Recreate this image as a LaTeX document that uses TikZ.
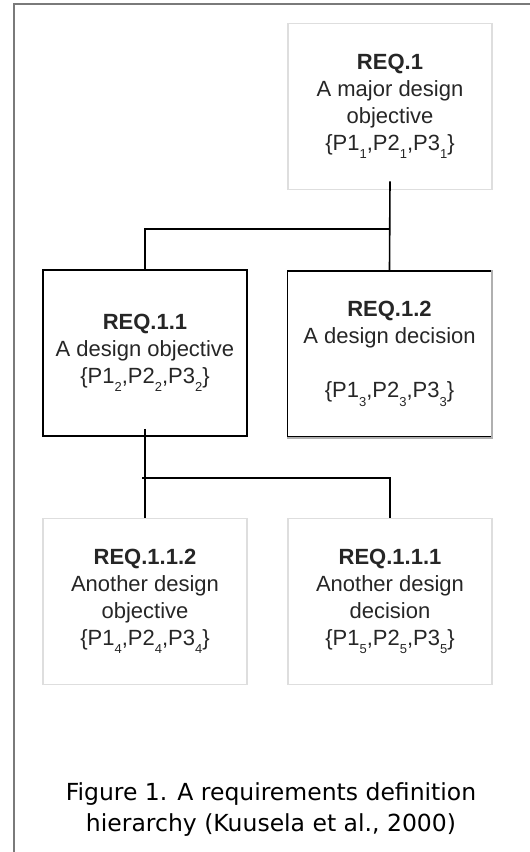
\documentclass[tikz,border=0pt]{standalone}
\usepackage{fontspec}
\setmainfont{Liberation Sans}
\newfontfamily\capfont{DejaVu Sans}
\usepackage{xcolor}
\definecolor{framegray}{HTML}{7A7A7A}
\definecolor{lightbox}{HTML}{DEDEDE}
\definecolor{shadegray}{HTML}{B0B0B0}
\newcommand{\psub}[1]{\raisebox{-8.5pt}{\fontsize{13}{13}\selectfont #1}}
\newcommand{\pset}[1]{\{P1\psub{#1},P2\psub{#1},P3\psub{#1}\}}

\begin{document}
\begin{tikzpicture}[x=1pt, y=-1pt,
    reqbox/.style={draw=lightbox, line width=1.5pt, minimum width=204pt,
      minimum height=166pt, inner sep=0pt, align=center, text=black!85,
      font=\fontsize{22}{27}\selectfont},
    link/.style={draw=black, line width=1.6pt}]
    \useasboundingbox (0,0) rectangle (530,852);

    % Moldura (só em cima e à esquerda)
    \draw[framegray, line width=1.6pt] (14,852) -- (14,4) -- (530,4);

    % Requisito principal
    \node[reqbox] (req1) at (390,106.5)
      {\textbf{REQ.1}\\A major design\\objective\\\pset{1}};

    % Segundo nível
    \node[reqbox, draw=black] (req11) at (145,353)
      {\textbf{REQ.1.1}\\A design objective\\\pset{2}};
    \node[reqbox, draw=black] (req12) at (389.5,354)
      {\textbf{REQ.1.2}\\A design decision\\[27pt]\pset{3}};
    % Sombra à direita e embaixo
    \draw[shadegray, line width=2.2pt] (req12.north east) -- (req12.south east)
      -- (req12.south west);

    % Terceiro nível
    \node[reqbox] (req112) at (145,601.5)
      {\textbf{REQ.1.1.2}\\Another design\\objective\\\pset{4}};
    \node[reqbox] (req111) at (390,601.5)
      {\textbf{REQ.1.1.1}\\Another design\\decision\\\pset{5}};

    % Ligações
    \coordinate (top1) at ([yshift=9pt]req1.south);
    \coordinate (top2) at ([yshift=8pt]req11.south);
    \coordinate (fork1) at (req1.south |- 0,229);
    \coordinate (fork2) at (142,478);
    \draw[link] (top1) -- (req12.north);
    \draw[link] (fork1) -| (req11.north);
    \draw[link] (top2) -- (req112.north);
    \draw[link] (fork2) -| (req111.north);

    % Legenda
    \node[font=\capfont\fontsize{23.5}{31}\selectfont, align=center] (caption)
      at (271,810) {Figure 1. A requirements definition\\
      hierarchy (Kuusela et al., 2000)};
\end{tikzpicture}
\end{document}
